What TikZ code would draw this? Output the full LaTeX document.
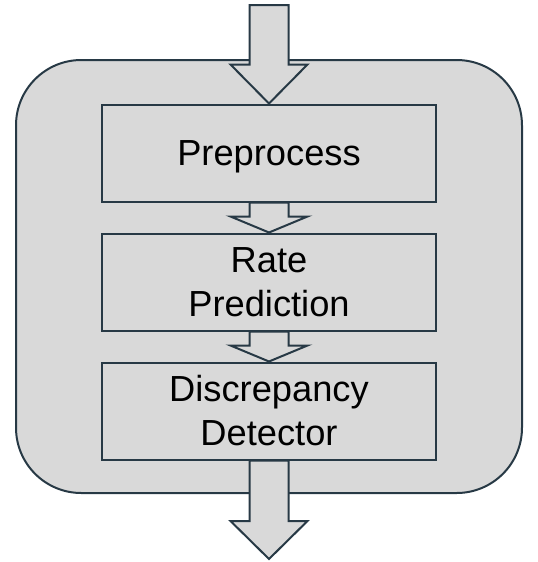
\documentclass[tikz,border=0pt]{standalone}
\usepackage{fontspec}
\setmainfont{Liberation Sans}
\usetikzlibrary{calc}
\definecolor{boxfill}{RGB}{217,217,217}
\definecolor{boxline}{RGB}{39,57,69}

% block arrow from #1 down to #2, head length #3
\newcommand{\flowarrow}[3]{%
  \draw[arrowline] ($(#1)+(-19.5,0)$) -- ($(#2)+(-19.5,-#3)$) -- ($(#2)+(-38.5,-#3)$)
    -- (#2) -- ($(#2)+(38.5,-#3)$) -- ($(#2)+(19.5,-#3)$) -- ($(#1)+(19.5,0)$) -- cycle;}

\begin{document}
\begin{tikzpicture}[x=0.75pt, y=-0.75pt,
    stage/.style={draw=boxline, fill=boxfill, line width=1.5pt, inner sep=0pt,
                  minimum width=334*0.75pt, minimum height=97*0.75pt, align=center,
                  font=\fontsize{27.2pt}{33pt}\selectfont},
    arrowline/.style={draw=boxline, fill=boxfill, line width=1.5pt, line join=miter}]
                \useasboundingbox (0,0) rectangle (538,562);

                \draw[draw=boxline, fill=boxfill, line width=1.5pt, rounded corners=49pt]
                    (16,60) rectangle (522,493);

                \node[stage, text depth=0pt](pre) at (269,153) {Preprocess};
                \node[stage](rate) at (269,282)   {Rate\\Prediction};
                \node[stage](disc) at (269,411)   {Discrepancy\\Detector};

                \coordinate(in)  at (269,5);
                \coordinate(out) at (269,559);

                \flowarrow{in}{pre.north}{39}
                \flowarrow{pre.south}{rate.north}{16}
                \flowarrow{rate.south}{disc.north}{16}
                \flowarrow{disc.south}{out}{38}
            \end{tikzpicture}
\end{document}
